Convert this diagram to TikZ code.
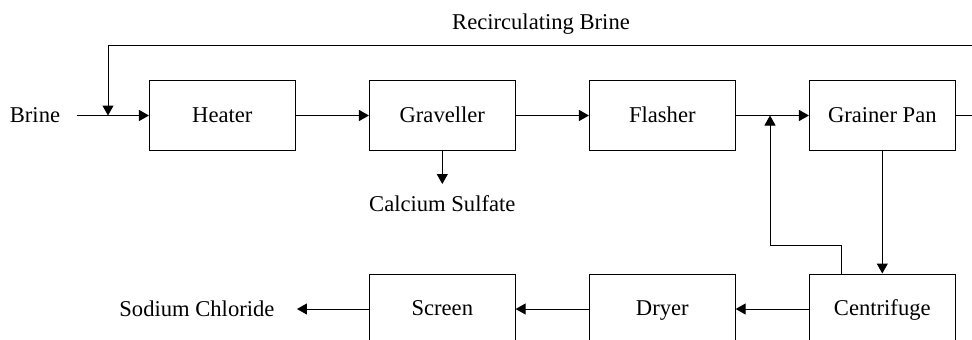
\documentclass[tikz,border=0pt]{standalone}
\usepackage{fontspec}
\setmainfont{Liberation Serif}
\usetikzlibrary{arrows.meta,positioning}

\begin{document}
\begin{tikzpicture}[x=1pt,y=-1pt,->,>={Triangle[length=10pt,width=11pt]},line width=1pt,
  node distance=73.3pt,font=\fontsize{22.6}{27}\selectfont,
  unit/.style={rectangle,draw,fill=white,minimum width=145.7pt,minimum height=70pt,
    inner sep=0pt,text height=17pt,text depth=3.4pt},
  stream/.style={inner sep=0pt}]

  \clip (0,0) rectangle (972,340);

  \node[unit] (heater) at (222.3,115.5) {Heater};
  \node[unit] (graveller) [right=of heater] {Graveller};
  \node[unit] (flasher) [right=of graveller] {Flasher};
  \node[unit] (grainer) [right=of flasher] {Grainer Pan};
  \node[unit] (centrifuge) [below=122.5pt of grainer] {Centrifuge};
  \node[unit] (dryer) [left=of centrifuge] {Dryer};
  \node[unit] (screen) [left=of dryer] {Screen};

  \node[stream] (brine) at (35,115.5) {Brine};
  \node[stream] (calcium) [below=44pt of graveller] {Calcium Sulfate};
  \node[stream] (sodium) [left=94pt of screen] {Sodium Chloride};
  \node[stream] (recirculating) at (541,24) {Recirculating Brine};

  \coordinate (mix) at (108,115.5);
  \coordinate (top) at (108,45);
  \coordinate (join) at (770,115.5);

  \path
    (brine) edge[shorten <=16pt] (heater)
    (heater) edge (graveller)
    (graveller) edge (flasher)
    (flasher) edge (grainer)
    (graveller) edge[shorten >=11pt] (calcium)
    (grainer) edge (centrifuge)
    (centrifuge) edge (dryer)
    (dryer) edge (screen)
    (screen) edge[shorten >=22pt] (sodium);

  \draw (grainer.east) -- ++(30,0) |- (top) -- (mix);
  \draw ([xshift=-41pt]centrifuge.north) |- ([yshift=-130pt]join) -- (join);
\end{tikzpicture}
\end{document}
